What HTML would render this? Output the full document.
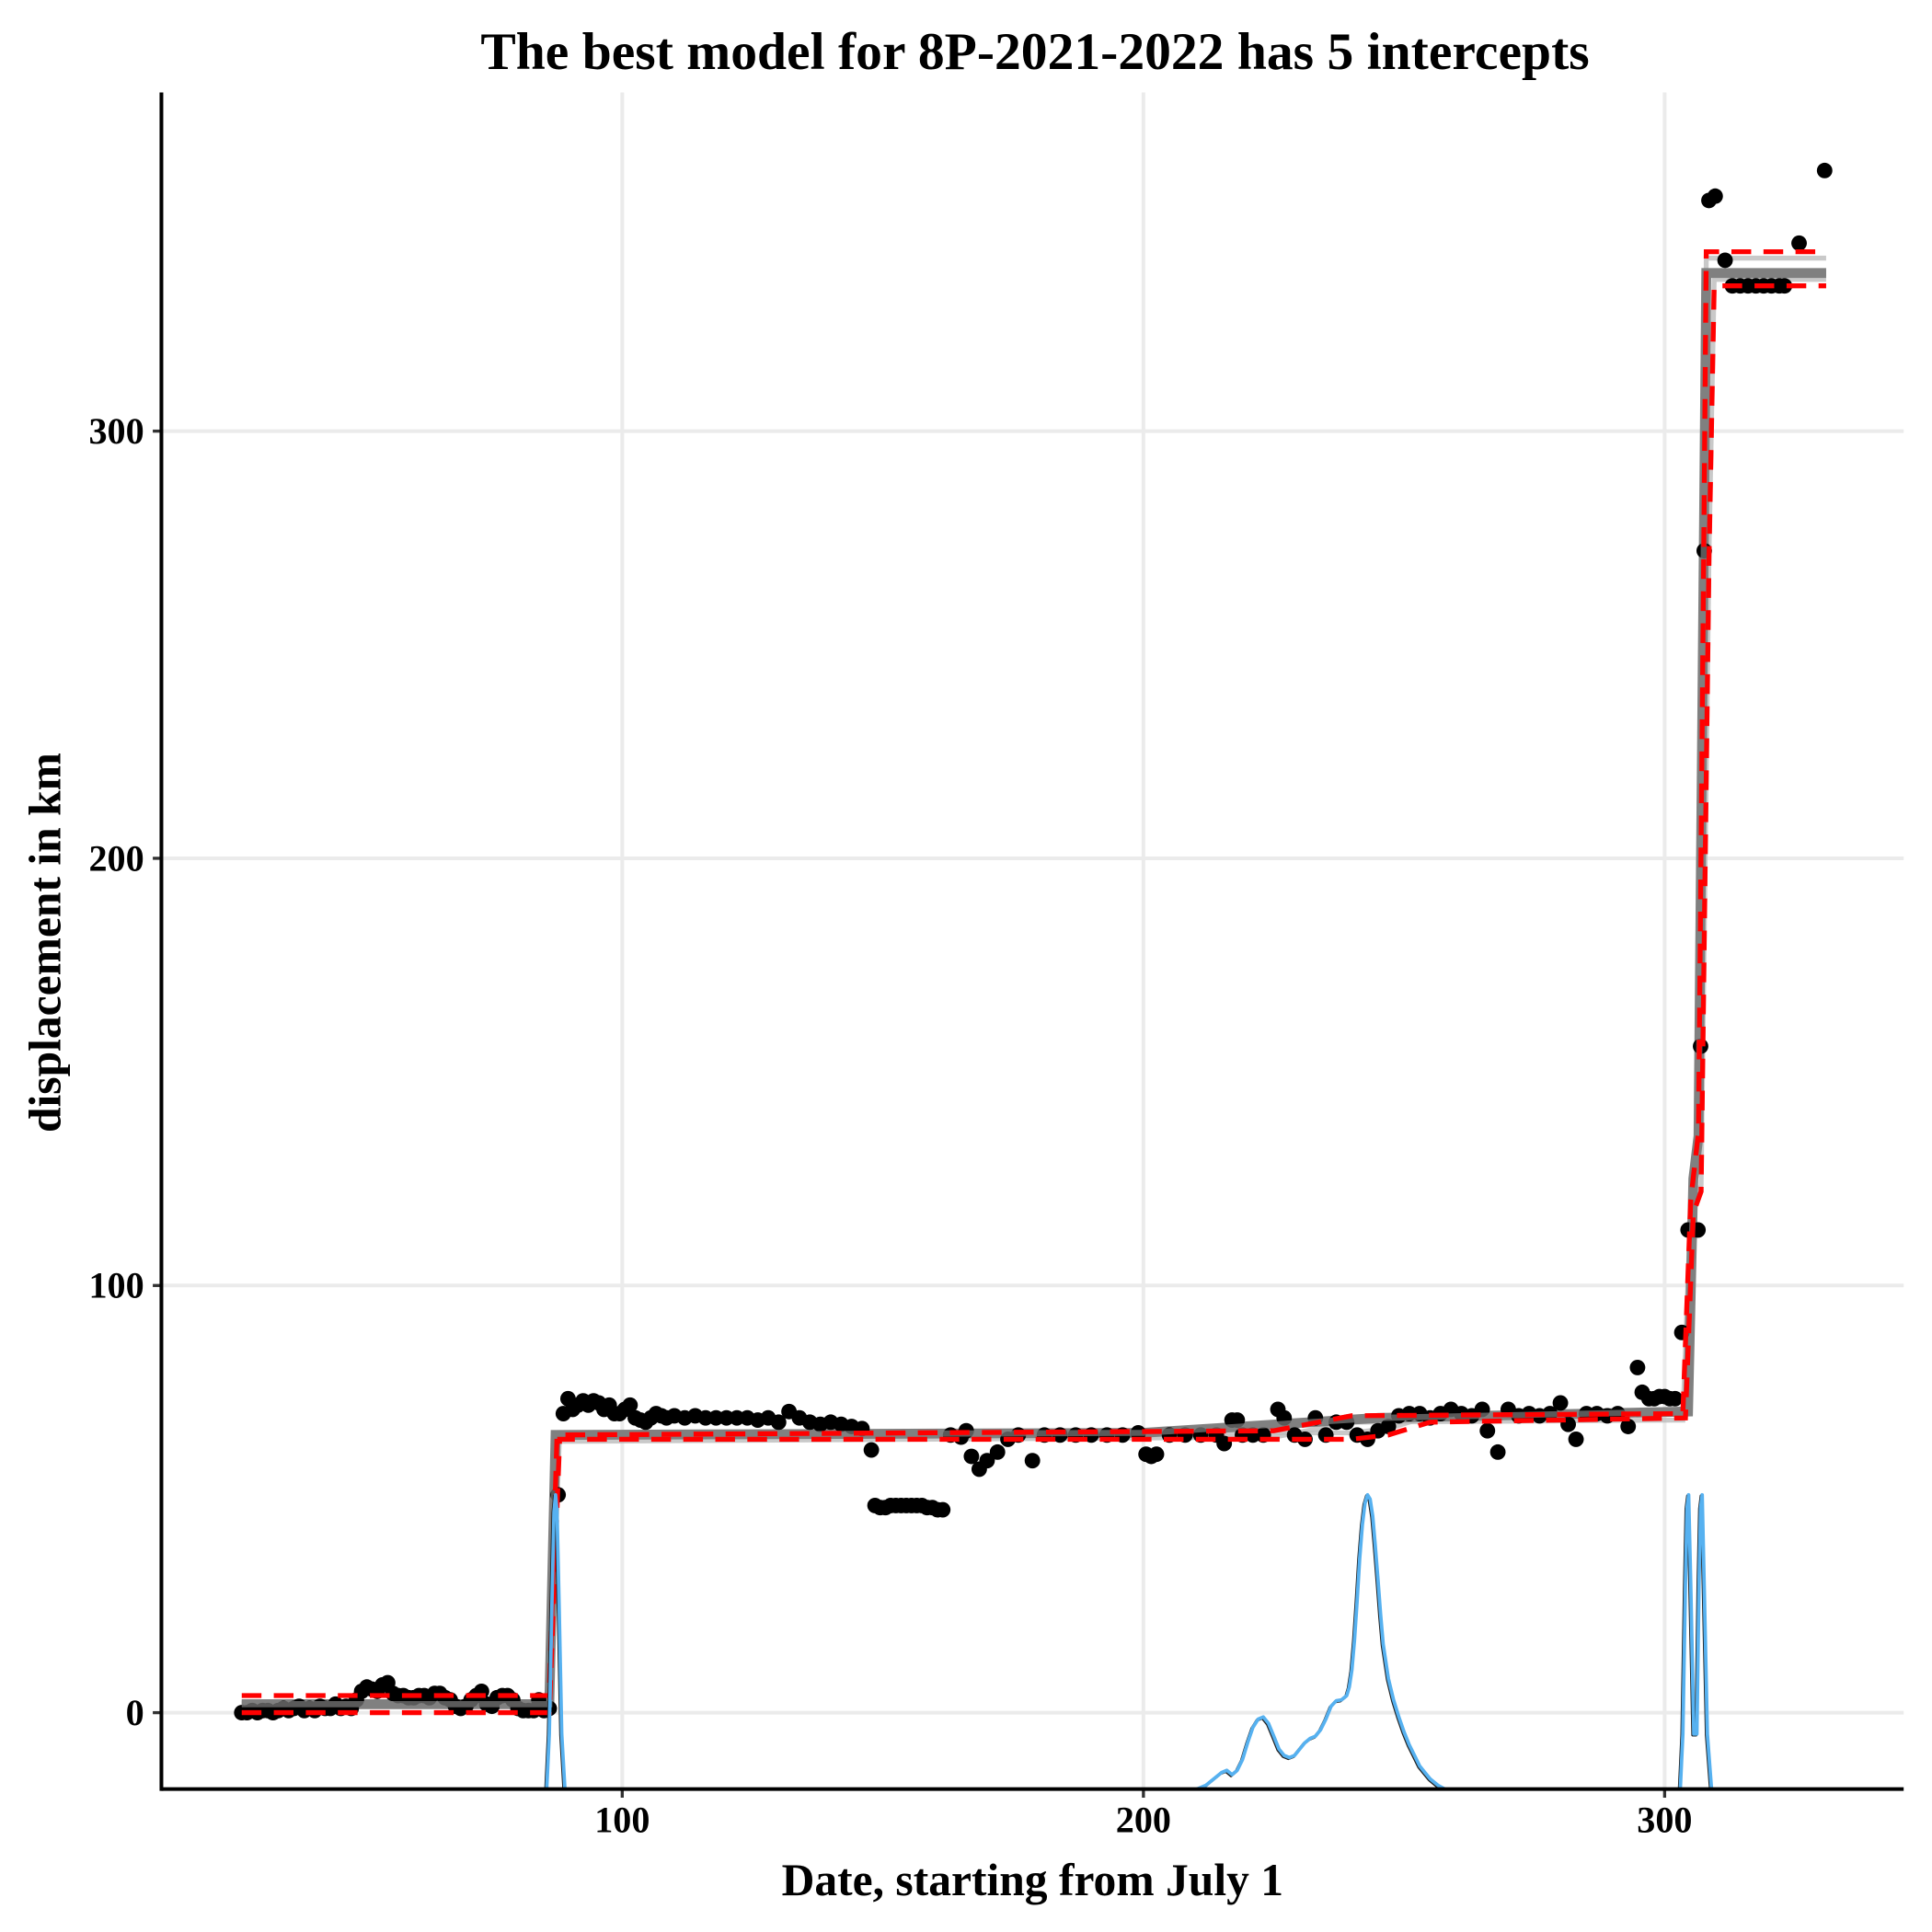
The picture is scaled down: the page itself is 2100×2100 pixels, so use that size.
<!DOCTYPE html>
<html><head><meta charset="utf-8"><style>
html,body{margin:0;padding:0;background:#fff}
svg{display:block}
text{font-family:"Liberation Serif",serif;font-weight:bold;fill:#000}
</style></head><body>
<svg id="chart" width="2100" height="2100" viewBox="0 0 1568 1568" xmlns="http://www.w3.org/2000/svg">
<text x="840" y="56" text-anchor="middle" font-size="43">The best model for 8P-2021-2022 has 5 intercepts</text>
<text x="838" y="1538" text-anchor="middle" font-size="37">Date, starting from July 1</text>
<text transform="translate(49,765) rotate(-90)" text-anchor="middle" font-size="37">displacement in km</text>
<g id="grid"></g>
<g id="plot" clip-path="url(#clip)"></g>
<g id="axes"></g>
<defs><clipPath id="clip"><rect x="131" y="75" width="1414" height="1377"/></clipPath></defs>
</svg>
<script>
const xTicks=[100,200,300];
const yTicks=[0,100,200,300];
const pointDays=[27,28,29,30,31,32,33,34,35,36,37,38,39,40,41,42,43,44,45,46,47,48,49,50,51,52,53,54,55,56,57,58,59,60,61,62,63,64,65,66,67,68,69,70,71,72,73,74,75,76,77,78,79,80,81,82,83,84,85,86,
87.7,88.7,89.6,90.5,91.5,92.5,93.5,94.5,95.5,96.5,97.5,98.5,99.5,100.5,101.5,102.5,103.5,104.5,105.5,106.5,107.5,108.5,110,112,114,116,118,120,122,124,126,128,130,132,134,136,138,140,142,144,146,147.8,
148.5,149.5,150.5,151.5,152.5,153.5,154.5,155.5,156.5,157.5,158.5,159.5,160.5,161.5,
163,165,166,167,168.5,170,172,174,176,178.7,181,184,187,190,193,196,199,200.5,201.5,202.5,205,208,211,214,215.5,217,218,219,221,223,225.8,227,229,231,233,235,237,239,241,243,245,247,249,251,253,255,257,259,261,263,265,266,268,270,272,274,276,278,280,281.5,283,285,287,289,291,293,294.8,295.7,297,298,299,300,301,302,303.3,304.5,305.5,306.4,306.9,307.6,308.5,309.7,311.6,313,314.5,316,317.5,319,320.5,322,323,325.8,330.7];
const pointValues=[0,0,0.5,0,0.5,0.5,0,0.5,1,0.5,1,1.5,0.5,1,0.5,1.5,1,1,2,1,1.5,1,3,5,6,5.5,5,6.5,7,4.5,4,4,3.5,3.5,4,4,3.5,4.5,4.5,3.5,3,1.5,1,1.5,3,4,5,2,1.5,3.5,4,4,3,1,0.5,0.5,0.5,3,0.5,1,
51,70,73.5,71,72,73,72,73,72.5,71,72,70,70,71,72,69,68.5,68,69,70,69.5,69,69.5,69,69.5,69,69,69,69,69,68.5,69,68,70.5,69,68,67.5,68,67.5,67,66.5,61.5,
48.5,48,48,48.5,48.5,48.5,48.5,48.5,48.5,48.5,48,48,47.5,47.5,
65,64.5,66,60,57,59,61,64,65,59,65,65,65,65,65,65,65.5,60.5,60,60.5,65,65,65,65,63,68.5,68.5,65,65,65,71,69,65,64,69,65,68,68,65,64,66,67,69.5,70,70,69,70,71,70,69.5,71,66,61,71,69.5,70,69.5,70,72.5,67.5,64,70,70,69.5,70,67,80.8,75,73.5,73.5,74,74,73.5,73.5,89,113,113,113,156,272,354,355,340,334,334,334,334,334,334,334,334,344,361];
const bandUpperDays=[27,86,87.5,225,240,303.5,305,306.5,307.5,308,331];
const bandUpperVals=[4,4,65,66,69.5,70,120,136,270,342,342];
const bandLowerDays=[27,86,88,240,247,255,304,305.5,307,308.5,309.5,331];
const bandLowerVals=[0,0,64,64,65,68,69,117,122,270,334,334];
const fitDays=[27,86,87.2,200,245,304.5,305.5,306.5,307.5,308,331];
const fitVals=[2,2,65,65.5,69,70.5,125,135,270,337,337];
const densDays=[85.5,86,86.5,86.9,87.2,87.5,87.9,88.4,89,210,212,213.5,215,216,217,218,219,220,221,222,223,224,225,226,227,228,229,230,231,232,233,234,235,236,237,238,239,239.5,240,240.5,241,241.5,242,242.5,243,243.5,244,244.5,245,245.5,246,247,248,249,250,251,252,253,254,255,256.5,258,303,303.5,304,304.3,304.6,305,305.6,306.2,306.6,306.9,307.2,307.6,308.2,309];
const densVals=[-18,-5,25,47,51,47,25,-5,-18,-18,-17,-15.5,-14,-13.5,-14.5,-13.5,-11,-7,-3.5,-1.5,-1,-2.5,-5.5,-8.5,-10,-10.5,-10,-8.5,-7,-6,-5.5,-4,-1.5,1.5,2.8,3,4,6,10,17,26,36,44,49,51,50,46,39,31,23,16,8,3,-1,-4.5,-7.5,-10,-12.5,-14,-15.5,-17,-18,-18,-5,30,48,51,30,-5,-5,30,48,51,30,-5,-18];

const NS='http://www.w3.org/2000/svg';
const L=131,R=1545,T=75,B=1452;
function xs(d){return 82+4.23*d;}
function ys(v){return 1390-3.467*v;}
function mk(tag,attrs,parent){const e=document.createElementNS(NS,tag);for(const k in attrs)e.setAttribute(k,attrs[k]);parent.appendChild(e);return e;}
const grid=document.getElementById('grid'),plot=document.getElementById('plot'),axes=document.getElementById('axes');
xTicks.forEach(t=>{
  const g=mk('line',{x1:xs(t),x2:xs(t),y1:T,y2:B,stroke:'#ebebeb','stroke-width':3},grid);
  
  
  const tk=mk('line',{x1:xs(t),x2:xs(t),y1:B,y2:B+7,stroke:'#333','stroke-width':2.5},axes);
  
  
  const lb=mk('text',{x:xs(t),y:B+35,'text-anchor':'middle','font-size':'30'},axes);
  lb.textContent=t;
  
  
});
yTicks.forEach(t=>{
  const g=mk('line',{x1:L,x2:R,y1:ys(t),y2:ys(t),stroke:'#ebebeb','stroke-width':3},grid);
  
  
  const tk=mk('line',{x1:L-7,x2:L,y1:ys(t),y2:ys(t),stroke:'#333','stroke-width':2.5},axes);
  
  
  const lb=mk('text',{x:L-14,y:ys(t)+10,'text-anchor':'end','font-size':'30'},axes);
  lb.textContent=t;
  
  
});
function path(days,vals){return days.map((d,i)=>(i?'L':'M')+xs(d).toFixed(1)+','+ys(vals[i]).toFixed(1)).join(' ');}
const b1=mk('path',{d:path(bandUpperDays,bandUpperVals.map(v=>v-1.5)),fill:'none',stroke:'#bbb','stroke-width':4,opacity:0.8},plot);


const b2=mk('path',{d:path(bandLowerDays,bandLowerVals.map(v=>v+1.5)),fill:'none',stroke:'#bbb','stroke-width':4,opacity:0.8},plot);


const fit=mk('path',{d:path(fitDays,fitVals),fill:'none',stroke:'#808080','stroke-width':8},plot);


pointDays.forEach((d,i)=>{
  const c=mk('circle',{cx:xs(d),cy:ys(pointValues[i]),r:6.3,fill:'#000'},plot);
  
  
});
const fit2=mk('path',{d:path(fitDays,fitVals),fill:'none',stroke:'#808080','stroke-width':5,opacity:0.7},plot);


const r1=mk('path',{d:path(bandUpperDays,bandUpperVals),fill:'none',stroke:'#ff0000','stroke-width':4,'stroke-dasharray':'16 10'},plot);


const r2=mk('path',{d:path(bandLowerDays,bandLowerVals),fill:'none',stroke:'#ff0000','stroke-width':4,'stroke-dasharray':'16 10'},plot);


const dk=mk('path',{d:path(densDays,densVals),fill:'none',stroke:'#222','stroke-width':2.5,'stroke-linejoin':'round',transform:'translate(-0.8,0.8)'},plot);


const db=mk('path',{d:path(densDays,densVals),fill:'none',stroke:'#56b1f0','stroke-width':2.8,'stroke-linejoin':'round'},plot);


const ax=mk('line',{x1:L,x2:R,y1:B,y2:B,stroke:'#000','stroke-width':3},axes);


const ay=mk('line',{x1:L,x2:L,y1:T,y2:B+1.5,stroke:'#000','stroke-width':3},axes);


</script>
</body></html>
